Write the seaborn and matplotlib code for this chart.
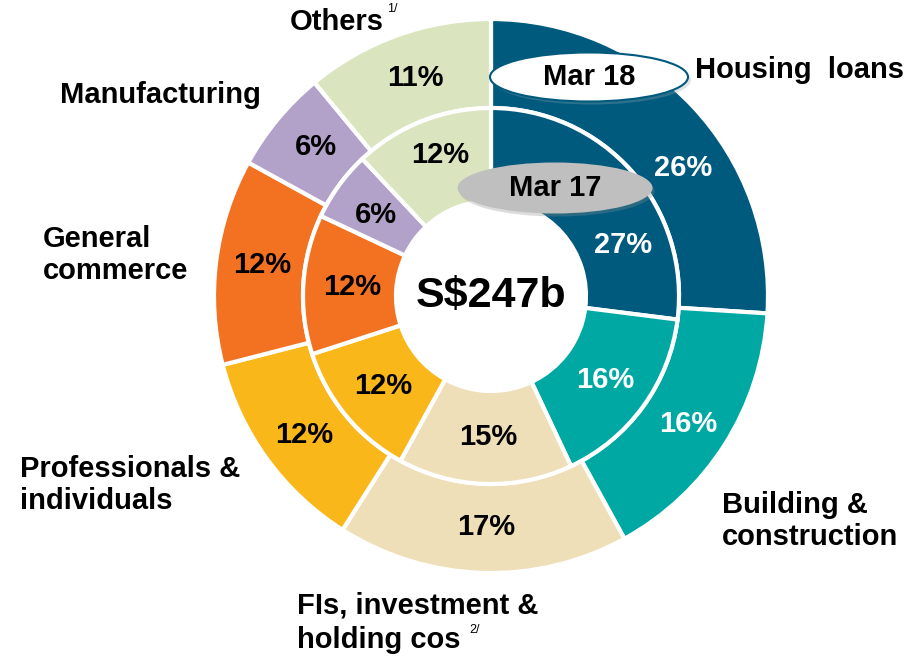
import numpy as np
import pandas as pd
import seaborn as sns
import matplotlib.pyplot as plt
from matplotlib.patches import Ellipse

# loan book breakdown, clockwise from 12 o'clock
categories = ["Housing loans", "Building & construction", "FIs, investment & holding cos",
              "Professionals & individuals", "General commerce", "Manufacturing", "Others"]
mar18 = [26, 16, 17, 12, 12, 6, 11]
mar17 = [27, 16, 15, 12, 12, 6, 12]
total_label = "S$247b"

palette = ["#005A7E", "#00A8A3", "#EFDFB8", "#F9B719", "#F37222", "#B2A1C8", "#DAE5C0"]
white_text = [True, True, False, False, False, False, False]

W, H = 916, 657
def py(y):
    return H - y

sns.set_theme(style="white")
plt.rcParams['font.family'] = ['Liberation Sans', 'DejaVu Sans']
plt.rcParams['text.color'] = 'black'

fig = plt.figure(figsize=(9.16, 6.57), dpi=100)
ax = fig.add_axes([0, 0, 1, 1])

cx, cy = 491, py(296)
ax.pie(mar18, radius=277, center=(cx, cy), startangle=90, counterclock=False,
       colors=palette, wedgeprops=dict(width=89, edgecolor='white', linewidth=3))
ax.pie(mar17, radius=188, center=(cx, cy), startangle=90, counterclock=False,
       colors=palette, wedgeprops=dict(width=93, edgecolor='white', linewidth=3))
ax.set_xlim(0, W)
ax.set_ylim(0, H)
ax.axis('off')

fs = 21
# percentage labels (placed like the original slide)
outer_pos = [(683, 168), (688, 424), (486, 527), (304, 435), (262, 265), (316, 147), (415, 78)]
inner_pos = [(623, 245), (605, 380), (488, 437), (383, 386), (352, 287), (376, 215), (440, 155)]
for vals, pos in [(mar18, outer_pos), (mar17, inner_pos)]:
    for v, (x, y), wt in zip(vals, pos, white_text):
        ax.text(x, py(y), f"{v}%", ha='center', va='center', fontsize=fs,
                fontweight='bold', color='white' if wt else 'black')

ax.text(cx, cy, total_label, ha='center', va='center', fontsize=31, fontweight='bold')

# period tags
ax.add_patch(Ellipse((592, py(80)), 198, 49, fc='#9AA8B0', ec='none', alpha=0.3))
ax.add_patch(Ellipse((589, py(77)), 198, 49, fc='white', ec='#005A7E', lw=1.5))
ax.text(589, py(77), "Mar 18", ha='center', va='center', fontsize=fs, fontweight='bold')
ax.add_patch(Ellipse((557, py(191)), 195, 51, fc='#8C8C8C', ec='none', alpha=0.3))
ax.add_patch(Ellipse((555, py(188)), 195, 51, fc='#BFBFBF', ec='none'))
ax.text(555, py(188), "Mar 17", ha='center', va='center', fontsize=fs, fontweight='bold')

# category names
lab = dict(fontsize=fs, fontweight='bold', va='center', ha='left', linespacing=1.17)
ax.text(695, py(70), "Housing  loans", **lab)
ax.text(722, py(521), "Building &\nconstruction", **lab)
ax.text(297, py(606), "FIs, investment &", **lab)
fis2 = ax.text(297, py(640), "holding cos", **lab)
ax.text(20, py(485), "Professionals &\nindividuals", **lab)
ax.text(43, py(255), "General\ncommerce", **lab)
ax.text(60, py(95), "Manufacturing", **lab)
oth = ax.text(290, py(22), "Others", **lab)

sup = dict(fontsize=9, ha='left', va='center', textcoords='offset points')
ax.annotate("1/", xy=(1, 0.95), xycoords=oth, xytext=(2, 0), **sup)
ax.annotate("2/", xy=(1, 0.85), xycoords=fis2, xytext=(6, 0), **sup)

fig.savefig("out.png", dpi=100)
